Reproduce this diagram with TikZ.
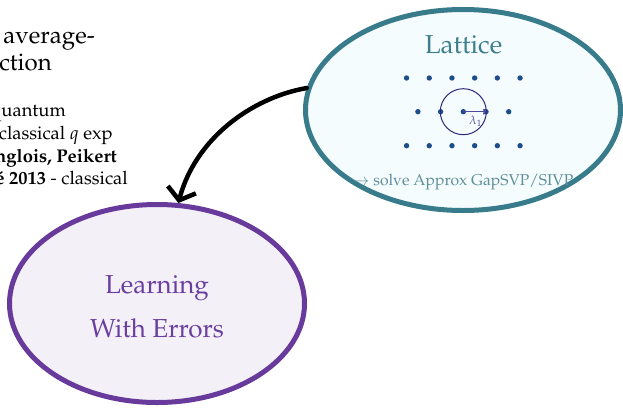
\documentclass[tikz,border=0pt]{standalone}
\usepackage[T1]{fontenc}
\usepackage{mathpazo}
\usetikzlibrary{arrows.meta,shapes.geometric}

\definecolor{latstroke}{HTML}{387B8A}
\definecolor{latfill}{HTML}{F5FCFD}
\definecolor{lattext}{HTML}{3E7F8D}
\definecolor{latnote}{HTML}{5E8E98}
\definecolor{lwestroke}{HTML}{673A9C}
\definecolor{lwefill}{HTML}{F3F0F8}
\definecolor{lwetext}{HTML}{6A3FA0}
\definecolor{dotblue}{HTML}{1E4D8C}
\definecolor{ringblue}{HTML}{2C2A78}
\definecolor{vecblue}{HTML}{4C4A9C}

\tikzset{
  bigbubble/.style={ellipse, line width=5pt, inner sep=0pt},
  headtext/.style={anchor=base east, inner sep=0pt, font=\fontsize{24}{28}\selectfont},
  smalltext/.style={anchor=base east, inner sep=0pt, font=\fontsize{18.4}{22}\selectfont},
  titletext/.style={anchor=base, inner sep=0pt, font=\fontsize{26}{30}\selectfont},
  latdot/.style={fill=dotblue},
  reduction/.style={line width=4.5pt, line cap=round,
    -{Straight Barb[length=11pt,width=29pt,line width=4.5pt]}},
}

\begin{document}
\begin{tikzpicture}[x=1pt,y=-1pt]
\useasboundingbox (0,0) rectangle (623,407);
\clip (0,0) rectangle (623,407);

% text running in from the left margin
\node[headtext] (h1) at (95,43) {average-};
\node[headtext] (h2) at (52,70) {ction};
\node[smalltext] (s1) at (66,116) {quantum};
\node[smalltext] (s2) at (113,139) {classical $q$ exp};
\node[smalltext] (s3) at (117,162.5) {\textbf{nglois, Peikert}};
\node[smalltext] (s4) at (128,184) {\textbf{é 2013} - classical};

% lattice bubble
\node[bigbubble, draw=latstroke, fill=latfill,
      minimum width=315pt, minimum height=201pt] (lat) at (463,110) {};
\node[titletext, text=lattext] (lattitle) at (463.5,53) {Lattice};
\node[anchor=base, inner sep=0pt, text=latnote,
      font=\fontsize{15.7}{19}\selectfont] (latnote) at (463,185)
      {$\rightarrow$ solve Approx GapSVP/SIVP};

% lattice points
\foreach \k in {0,...,5} {
  \fill[latdot] ({463.3+(\k-2.5)*22.7},78) circle (2.7pt);
  \fill[latdot] ({463.3+(\k-2.5)*22.7},145.7) circle (2.7pt);
}
\foreach \k in {0,...,4} {
  \fill[latdot] ({463.3+(\k-2)*22.7},111.7) circle (2.7pt);
}
\coordinate (origin) at (463.3,111.7);
\coordinate (shortest) at (486,111.7);
\draw[ringblue, line width=1pt] (origin) circle (23pt);
\draw[vecblue, line width=1.5pt, -{To[length=3pt,width=6pt]}] (origin) -- (shortest);
\node[text=vecblue, inner sep=0pt, font=\fontsize{12}{14}\selectfont] (lam) at (475.5,121.5) {$\lambda_1$};

% LWE bubble
\node[bigbubble, draw=lwestroke, fill=lwefill,
      minimum width=295pt, minimum height=198pt] (lwe) at (157,303.5) {};
\node[titletext, text=lwetext] (lwe1) at (157,293) {Learning};
\node[titletext, text=lwetext] (lwe2) at (157,337) {With Errors};

% reduction arrow
\draw[reduction] (lat.172) .. controls (250,98) and (195,140) .. (lwe.78);
\end{tikzpicture}
\end{document}
